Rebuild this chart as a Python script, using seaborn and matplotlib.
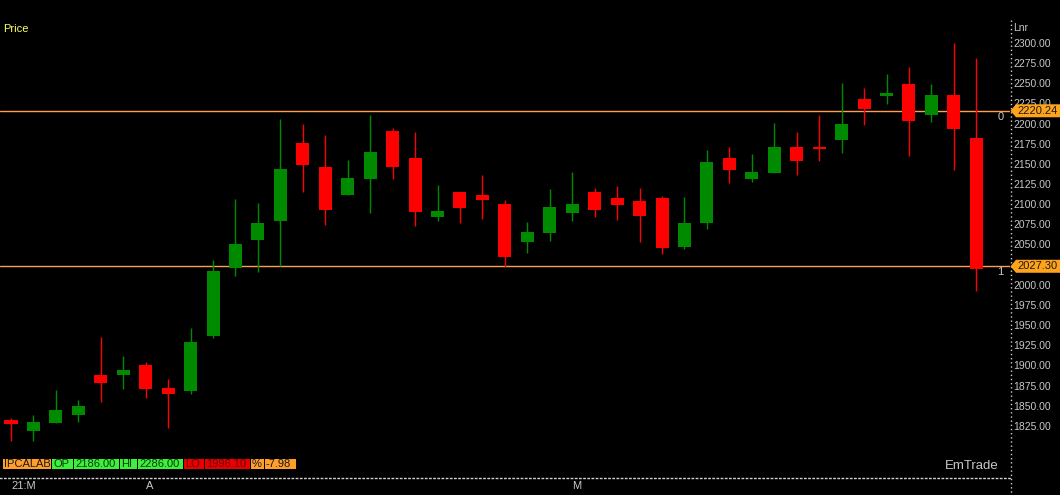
import matplotlib
matplotlib.use("Agg")
import numpy as np
import pandas as pd
import matplotlib.pyplot as plt
from matplotlib.patches import Rectangle, Polygon
from matplotlib.lines import Line2D
from matplotlib.transforms import ScaledTranslation
import seaborn as sns

# daily candles
opens = [1837, 1823, 1833, 1843, 1893, 1893, 1905, 1876, 1873, 1941, 2025, 2060,
         2084, 2180, 2150, 2116, 2135, 2195, 2162, 2089, 2119, 2116, 2105, 2058,
         2069, 2093, 2120, 2112, 2108, 2112, 2051, 2081, 2162, 2135, 2143, 2175,
         2175, 2184, 2235, 2238, 2253, 2215, 2240, 2186]
highs = [1839, 1843, 1874, 1861, 1940, 1916, 1909, 1887, 1951, 2035, 2111, 2106,
         2210, 2204, 2190, 2159, 2215, 2199, 2194, 2128, 2120, 2140, 2109, 2082,
         2123, 2144, 2124, 2127, 2124, 2115, 2113, 2171, 2175, 2167, 2205, 2194,
         2215, 2255, 2248, 2266, 2274, 2253, 2304, 2286]
lows = [1811, 1811, 1833, 1834, 1859, 1875, 1864, 1827, 1869, 1938, 2015, 2020,
        2028, 2119, 2078, 2116, 2093, 2135, 2077, 2084, 2081, 2086, 2026, 2044,
        2059, 2084, 2089, 2085, 2057, 2042, 2049, 2073, 2131, 2132, 2143, 2140,
        2158, 2168, 2203, 2229, 2164, 2206, 2147, 1996.1]
closes = [1831, 1834, 1849, 1854, 1883, 1898, 1875, 1869, 1933, 2022, 2055, 2081,
          2148, 2153, 2097, 2137, 2169, 2151, 2095, 2096, 2099, 2109, 2039, 2070,
          2101, 2104, 2097, 2103, 2090, 2050, 2081, 2157, 2147, 2144, 2175, 2158,
          2173, 2204, 2222, 2242, 2207, 2240, 2198, 2024]

month_pos = [0, 6, 25]
month_labels = ["21:M", "A", "M"]
price_ticks = list(range(1825, 2301, 25))
fib_levels = [2220.24, 2027.30]
fib_names = ["0", "1"]

symbol = "IPCALAB"
info_open = 2186.00
info_high = 2286.00
info_low = 1996.10
info_pct = -7.98

W, H = 1060, 495
UP = "#008a00"
DOWN = "#ff0000"
FIB = "#ffa050"
GREY = "#c8c8c8"
YMIN, YMAX = 1764.6, 2357.7

sns.set_theme(style="dark", rc={"figure.facecolor": "black", "axes.facecolor": "black"})
plt.rcParams["font.family"] = ["Liberation Sans", "DejaVu Sans"]

df = pd.DataFrame({"open": opens, "high": highs, "low": lows, "close": closes})
df["idx"] = np.arange(len(df))
df["col"] = np.where(df["close"] >= df["open"], UP, DOWN)
df["bottom"] = df[["open", "close"]].min(axis=1)
df["height"] = (df["close"] - df["open"]).abs().clip(lower=1.5)


def fx(x):
    return x / W


def fy(y):
    return 1 - y / H


fig = plt.figure(figsize=(W / 100, H / 100), dpi=100)
ax = fig.add_axes([0, 1 - 478 / H, 1010 / W, 478 / H])
ax.set_facecolor("black")

ax.vlines(df["idx"], df["low"], df["high"], colors=df["col"], linewidth=1, zorder=2)
ax.bar(df["idx"], df["height"], bottom=df["bottom"], width=0.58, color=df["col"],
       linewidth=0, zorder=3)

for lvl in fib_levels:
    ax.axhline(lvl, color=FIB, linewidth=1, zorder=1)

ax.set_xlim(-0.49, 44.5)
ax.set_ylim(YMIN, YMAX)

# price scale on the right, labels sit a touch above their level
ax.set_yticks([])
lab_tr = ax.get_yaxis_transform() + ScaledTranslation(3 / 100, 2.5 / 100, fig.dpi_scale_trans)
for t in price_ticks:
    ax.text(1.0, t, f"{t:.2f}", transform=lab_tr, color=GREY, fontsize=7.5,
            va="center", ha="left", clip_on=False, zorder=0)

ax.set_xticks(month_pos)
ax.set_xticklabels(month_labels)
ax.tick_params(axis="x", length=0, pad=2, labelsize=8, labelcolor=GREY)
for lab in ax.get_xticklabels():
    lab.set_ha("left")

ax.grid(False)
for s in ["left", "top", "right"]:
    ax.spines[s].set_visible(False)
ax.spines["bottom"].set_color("#d0d0d0")
ax.spines["bottom"].set_linestyle((0, (1, 2)))
ax.spines["bottom"].set_linewidth(1)

# right dotted axis line
fig.add_artist(Line2D([fx(1010.5), fx(1010.5)], [fy(20), 0], color="#d0d0d0",
                      linewidth=1, linestyle=(0, (1, 2))))

fig.text(fx(3), fy(29), "Price", color="#ffff66", fontsize=8, va="center", ha="left")
fig.text(fx(1013), fy(28), "Lnr", color=GREY, fontsize=7.5, va="center", ha="left")
fig.text(fx(999), fy(466), "EmTrade", color=GREY, fontsize=9.5, va="center", ha="right")

# fib level tags on the right
for lvl, name in zip(fib_levels, fib_names):
    ypx = (1 - (lvl - YMIN) / (YMAX - YMIN)) * 478
    pts = [(1010.5, ypx), (1016, ypx - 6.5), (1060, ypx - 6.5), (1060, ypx + 6.5),
           (1016, ypx + 6.5)]
    fig.add_artist(Polygon([(fx(a), fy(b)) for a, b in pts], closed=True,
                           facecolor="#ffa31a", edgecolor="none", zorder=5))
    fig.text(fx(1017), fy(ypx), f"{lvl:.2f}", color="#1a1a1a", fontsize=8,
             va="center", ha="left", zorder=6)
    fig.text(fx(1000.5), fy(ypx + 6), name, color=GREY, fontsize=8,
             va="center", ha="center")

# quote strip at the bottom left
ORANGE = "#ff9e2a"
GREEN = "#3cf03c"
RED = "#e80000"
strip = [
    (symbol, 3, 51, ORANGE, "#1a1a1a"),
    ("OP", 52, 73, GREEN, "#0a3a0a"),
    (f"{info_open:.2f}", 74, 119, GREEN, "#0a3a0a"),
    ("HI", 120, 137, GREEN, "#0a3a0a"),
    (f"{info_high:.2f}", 138, 183, GREEN, "#0a3a0a"),
    ("LO", 184, 204, RED, "#700000"),
    (f"{info_low:.2f}", 205, 250, RED, "#700000"),
    ("%", 251, 264, ORANGE, "#1a1a1a"),
    (f"{info_pct:.2f}", 265, 296, ORANGE, "#1a1a1a"),
]
for txt, x0, x1, bg, fg in strip:
    fig.add_artist(Rectangle((fx(x0), fy(469)), (x1 - x0) / W, 10.5 / H,
                             facecolor=bg, edgecolor="none"))
    fig.text(fx(x0 + 1), fy(464), txt, color=fg, fontsize=8, va="center", ha="left")

fig.savefig("out.png", dpi=100, facecolor="black")
